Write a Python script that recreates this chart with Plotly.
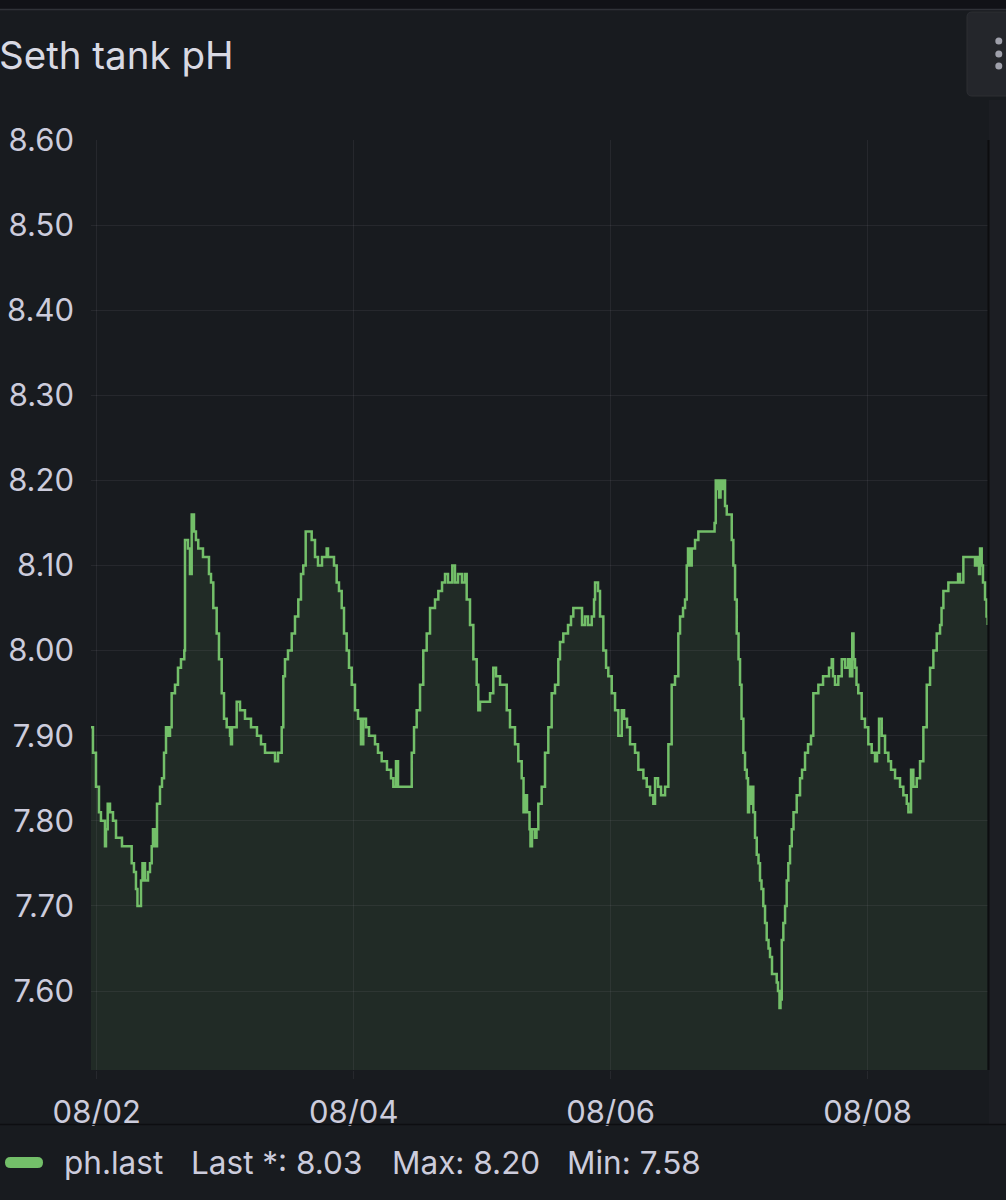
import pandas as pd
import plotly.graph_objects as go

# ---- data (hours after 2024-08-02 00:00, pH) ----
hours = [
    -1.08, -0.71, -0.15, 0.41, 0.78, 1.35, 1.53, 1.72, 2.04, 2.47, 3.03, 3.59, 4.33, 4.71, 5.64, 6.20,
    6.52, 6.95, 7.32, 7.60, 8.07, 8.26, 8.54, 9.01, 9.57, 9.94, 10.26, 10.50, 10.87, 11.25, 11.81, 12.18,
    12.56, 12.93, 13.30, 13.68, 13.99, 14.61, 15.17, 15.73, 16.35, 16.48, 17.04, 17.41, 17.73, 18.16, 18.53,
    18.96, 19.84, 20.59, 20.96, 21.34, 21.77, 22.40, 22.83, 23.34, 23.77, 24.27, 24.89, 25.07, 25.26, 26.14,
    26.76, 27.69, 28.81, 29.93, 30.68, 31.43,
    32.36, 33.30, 33.86, 34.55, 34.85, 35.16, 35.72, 36.42, 37.03, 37.65, 38.15, 38.58, 39.03, 40.15, 40.77,
    41.33, 42.08, 42.95, 43.20, 44.32, 44.82, 45.25, 45.76, 46.19, 46.69, 47.12, 47.63, 48.24, 48.80, 49.36,
    49.79, 50.30, 50.86, 51.98, 52.54, 53.23, 54.22, 54.97, 55.40, 55.90, 56.28, 58.20, 58.84, 59.27, 59.77,
    60.39, 61.00, 61.64, 62.26, 63.19, 63.81, 64.50, 65.06, 65.62,
    66.42, 66.92, 67.49, 68.23, 68.79, 69.11, 69.73, 70.35, 70.98, 71.28, 71.60, 73.15, 73.47, 74.08, 74.59,
    75.34, 75.95, 76.59, 77.20, 78.14, 78.75, 79.39, 79.73, 80.01, 80.38, 80.85, 81.03, 81.31, 81.87, 82.15,
    82.49, 83.12, 83.74, 84.36, 84.99, 85.61, 86.23, 86.54, 87.16, 88.04, 88.60, 89.03, 90.28, 90.66, 91.22,
    91.78, 92.47, 92.90, 93.09, 93.65, 94.02, 94.64, 95.15, 95.57, 96.21, 96.83, 97.44, 98.08, 98.51,
    99.07, 99.63, 100.56, 101.18, 102.12, 102.75, 103.37, 103.98, 104.30, 104.86, 105.42, 106.17, 106.79,
    107.41, 108.03, 108.65, 108.97, 109.53, 109.90, 110.22, 110.46, 110.74, 111.15, 111.77, 112.39, 115.19,
    115.42, 115.64, 116.07, 116.26, 116.54, 116.82, 117.06, 117.38, 117.70, 118.31, 118.63, 118.93, 119.25,
    119.56, 119.90, 120.18, 120.46, 120.80, 121.11, 121.43, 121.67, 121.86, 122.05, 122.33, 122.66, 122.98,
    123.30, 123.63, 123.91, 124.19, 124.53, 124.85, 125.16, 125.50, 125.78, 126.15, 127.03, 127.27, 127.55,
    127.74, 127.97, 128.27, 128.59, 128.90, 129.20, 129.52, 129.84, 130.17, 130.77, 131.39, 131.76, 132.32,
    132.88,
    133.44, 133.87, 134.81, 135.69, 136.37, 136.80, 137.31, 137.55, 137.92, 138.54, 139.18, 139.79, 140.35,
    140.72, 141.15, 141.38, 141.66, 141.94, 142.27, 142.91, 143.52, 144.14, 144.78, 145.40, 145.77, 146.15,
    146.65, 147.27, 147.89, 148.39, 149.14, 150.07, 150.69, 151.33, 151.63, 152.13, 152.56, 153.19, 153.81,
    154.43, 155.06, 155.68, 156.30, 156.93, 157.55, 157.83, 158.17, 159.10, 160.35, 160.91, 161.28, 161.90,
    163.47, 164.08, 164.46, 164.83, 165.02, 165.33, 165.57, 165.95, 166.23, 166.45,
]
ph = [
    7.91, 7.88, 7.84, 7.81, 7.80, 7.80, 7.77, 7.79, 7.82, 7.81, 7.80, 7.78, 7.78, 7.77, 7.77, 7.77,
    7.75, 7.74, 7.72, 7.70, 7.70, 7.73, 7.75, 7.73, 7.74, 7.75, 7.77, 7.79, 7.77, 7.82, 7.84, 7.85,
    7.88, 7.91, 7.90, 7.91, 7.95, 7.96, 7.98, 7.99, 8.00, 8.13, 8.12, 8.09, 8.16, 8.14, 8.13,
    8.12, 8.11, 8.11, 8.09, 8.08, 8.05, 8.02, 7.99, 7.95, 7.92, 7.91, 7.90, 7.89, 7.91, 7.94,
    7.93, 7.92, 7.91, 7.90, 7.89, 7.88,
    7.88, 7.87, 7.88, 7.91, 7.97, 7.99, 8.00, 8.02, 8.04, 8.06, 8.09, 8.10, 8.14, 8.13, 8.11,
    8.10, 8.11, 8.12, 8.11, 8.10, 8.08, 8.07, 8.05, 8.02, 8.00, 7.98, 7.96, 7.93, 7.92, 7.89,
    7.92, 7.91, 7.90, 7.89, 7.88, 7.87, 7.86, 7.85, 7.84, 7.87, 7.84, 7.84, 7.88, 7.91, 7.93,
    7.96, 8.00, 8.02, 8.05, 8.06, 8.07, 8.08, 8.09, 8.08,
    8.10, 8.08, 8.09, 8.08, 8.09, 8.06, 8.03, 7.99, 7.96, 7.93, 7.94, 7.94, 7.95, 7.98, 7.97,
    7.96, 7.96, 7.93, 7.91, 7.89, 7.87, 7.85, 7.81, 7.83, 7.81, 7.79, 7.77, 7.79, 7.78, 7.79,
    7.82, 7.84, 7.88, 7.91, 7.95, 7.96, 7.99, 8.01, 8.02, 8.03, 8.04, 8.05, 8.05, 8.03, 8.04,
    8.03, 8.04, 8.06, 8.08, 8.07, 8.04, 8.00, 7.98, 7.97, 7.95, 7.93, 7.90, 7.93, 7.92,
    7.91, 7.89, 7.88, 7.86, 7.85, 7.84, 7.83, 7.82, 7.85, 7.84, 7.83, 7.84, 7.89,
    7.96, 7.97, 8.02, 8.04, 8.05, 8.06, 8.10, 8.12, 8.10, 8.12, 8.13, 8.14, 8.14,
    8.15, 8.20, 8.19, 8.18, 8.20, 8.19, 8.20, 8.17, 8.16, 8.16, 8.13, 8.10, 8.06,
    8.02, 7.99, 7.96, 7.92, 7.88, 7.86, 7.85, 7.81, 7.84, 7.82, 7.84, 7.81, 7.78,
    7.76, 7.75, 7.73, 7.72, 7.70, 7.68, 7.66, 7.65, 7.64, 7.62, 7.61, 7.60, 7.58,
    7.59, 7.66, 7.68, 7.70, 7.73, 7.75, 7.77, 7.79, 7.81, 7.83, 7.85, 7.86, 7.88,
    7.89,
    7.90, 7.95, 7.96, 7.97, 7.97, 7.98, 7.99, 7.97, 7.96, 7.97, 7.99, 7.98, 7.99,
    7.97, 8.02, 7.99, 7.98, 7.96, 7.95, 7.92, 7.91, 7.89, 7.88, 7.87, 7.88, 7.92,
    7.90, 7.88, 7.87, 7.86, 7.85, 7.84, 7.83, 7.82, 7.81, 7.86, 7.84, 7.85, 7.87,
    7.91, 7.96, 7.98, 8.00, 8.02, 8.03, 8.05, 8.07, 8.08, 8.08, 8.09, 8.08, 8.11,
    8.11, 8.10, 8.11, 8.09, 8.12, 8.10, 8.08, 8.06, 8.04, 8.03,
]
y_ticks = [7.60, 7.70, 7.80, 7.90, 8.00, 8.10, 8.20, 8.30, 8.40, 8.50, 8.60]
x_ticks = ["2024-08-02", "2024-08-04", "2024-08-06", "2024-08-08"]
x_tick_labels = ["08/02", "08/04", "08/06", "08/08"]
title_text = "Seth tank pH"
series_name = "ph.last"
legend_stats = ["Last *: 8.03", "Max: 8.20", "Min: 7.58"]

base = pd.Timestamp("2024-08-02 00:00")
times = [base + pd.Timedelta(hours=h) for h in hours]

W, H = 1006, 1200
def fx(px):
    return px / W
def fy(py):
    return 1 - py / H

BG = "#181b1f"
GREEN = "#73bf69"
GRID = "rgba(204,204,220,0.08)"
TEXT = "#ccccdc"
FONT = "Inter"

fig = go.Figure()
fig.add_trace(go.Scatter(
    x=times, y=ph, mode="lines", line=dict(color=GREEN, width=2.5, shape="hv"),
    fill="tozeroy", fillcolor="rgba(115,191,105,0.10)", name=series_name,
    hoverinfo="skip",
))

fig.update_layout(
    width=W, height=H, margin=dict(l=0, r=0, t=0, b=0, pad=0, autoexpand=False),
    paper_bgcolor=BG, plot_bgcolor=BG, showlegend=False,
    font=dict(family=FONT, color=TEXT, size=31),
    xaxis=dict(
        domain=[fx(91), fx(987.7)], type="date", automargin=False,
        range=[times[0], times[-1]],
        tickvals=x_ticks, ticktext=x_tick_labels,
        showgrid=True, gridcolor=GRID, gridwidth=1,
        ticks="outside", ticklen=8, tickcolor=GRID, tickwidth=1,
        showline=False, zeroline=False, ticklabelstandoff=7,
        tickfont=dict(size=31, color=TEXT, family=FONT),
    ),
    yaxis=dict(
        domain=[fy(1070), fy(140)], range=[7.5072, 8.60], automargin=False,
        tickvals=y_ticks, tickformat=".2f",
        showgrid=True, gridcolor=GRID, gridwidth=1,
        zeroline=False, showline=False, ticks="",
        ticklabelstandoff=16,
        tickfont=dict(size=31, color=TEXT, family=FONT),
    ),
)

shapes = []
# top strip
shapes.append(dict(type="rect", xref="paper", yref="paper", x0=0, x1=1, y0=fy(0), y1=fy(9),
                   fillcolor="#111217", line=dict(width=0), layer="above"))
shapes.append(dict(type="line", xref="paper", yref="paper", x0=0, x1=1, y0=fy(9.5), y1=fy(9.5),
                   line=dict(color="#303238", width=1.5), layer="above"))
# right scroll strip and dark edge
shapes.append(dict(type="rect", xref="paper", yref="paper", x0=fx(989), x1=1, y0=fy(100), y1=fy(1124),
                   fillcolor="#1c1e23", line=dict(width=0), layer="above"))
shapes.append(dict(type="line", xref="paper", yref="paper", x0=fx(988.5), x1=fx(988.5), y0=fy(140), y1=fy(1070),
                   line=dict(color="#0c0d0f", width=2), layer="above"))
# legend separator
shapes.append(dict(type="line", xref="paper", yref="paper", x0=0, x1=1, y0=fy(1124.5), y1=fy(1124.5),
                   line=dict(color="#0d0e11", width=1.5), layer="above"))
# menu button
def rrect(x0, y0, x1, y1, r):
    return (f"M {fx(x0+r)},{fy(y0)} L {fx(x1-r)},{fy(y0)} Q {fx(x1)},{fy(y0)} {fx(x1)},{fy(y0+r)} "
            f"L {fx(x1)},{fy(y1-r)} Q {fx(x1)},{fy(y1)} {fx(x1-r)},{fy(y1)} "
            f"L {fx(x0+r)},{fy(y1)} Q {fx(x0)},{fy(y1)} {fx(x0)},{fy(y1-r)} "
            f"L {fx(x0)},{fy(y0+r)} Q {fx(x0)},{fy(y0)} {fx(x0+r)},{fy(y0)} Z")
shapes.append(dict(type="path", xref="paper", yref="paper", path=rrect(967, 12, 1014, 96, 5),
                   fillcolor="#24262b", line=dict(color="#2c2e33", width=1), layer="above"))
for cy in (41, 54, 66):
    shapes.append(dict(type="circle", xref="paper", yref="paper",
                       x0=fx(995.3), x1=fx(1002.3), y0=fy(cy - 3.5), y1=fy(cy + 3.5),
                       fillcolor="#9fa0ab", line=dict(width=0), layer="above"))
# legend color bar
shapes.append(dict(type="path", xref="paper", yref="paper", path=rrect(5, 1157, 43, 1168, 5.5),
                   fillcolor=GREEN, line=dict(width=0), layer="above"))
fig.update_layout(shapes=shapes)

ann = []
ann.append(dict(text=title_text, xref="paper", yref="paper", x=fx(-3), y=fy(55),
                xanchor="left", yanchor="middle", showarrow=False,
                font=dict(size=38.5, color="#d8d9e3", family=FONT)))
leg_items = [(62, series_name)] + list(zip([189, 390, 565], legend_stats))
for xpx, t in leg_items:
    ann.append(dict(text=t, xref="paper", yref="paper", x=fx(xpx), y=fy(1162),
                    xanchor="left", yanchor="middle", showarrow=False,
                    font=dict(size=31.5, color=TEXT, family=FONT)))
fig.update_layout(annotations=ann)

fig.write_html("out.html", config={"displayModeBar": False})
